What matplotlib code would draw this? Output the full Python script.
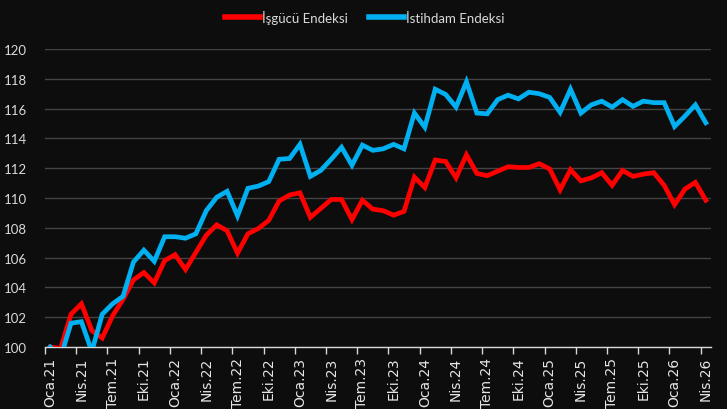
import matplotlib
matplotlib.use("Agg")
import matplotlib.pyplot as plt
from matplotlib.lines import Line2D
import numpy as np

# ---- data ----
month_abbr = ["Oca", "Şub", "Mar", "Nis", "May", "Haz", "Tem", "Ağu", "Eyl", "Eki", "Kas", "Ara"]
years = [21, 22, 23, 24, 25, 26]
months = [f"{month_abbr[m]}.{y}" for y in years for m in range(12)][:64]  # Oca.21 .. Nis.26

isgucu = [100.0, 99.9, 102.2, 102.9, 101.1, 100.6, 102.1, 103.2, 104.5, 105.0,
          104.3, 105.8, 106.2, 105.2, 106.35, 107.5, 108.2, 107.8, 106.3, 107.6,
          107.95, 108.5, 109.8, 110.2, 110.35, 108.7, 109.3, 109.9, 109.9, 108.55,
          109.85, 109.25, 109.15, 108.85, 109.1, 111.4, 110.7, 112.55, 112.45, 111.35,
          112.9, 111.65, 111.5, 111.8, 112.1, 112.05, 112.05, 112.3, 111.95, 110.55,
          111.9, 111.15, 111.35, 111.7, 110.85, 111.85, 111.45, 111.6, 111.7, 110.85,
          109.55, 110.6, 111.05, 109.85]

istihdam = [100.0, 99.3, 101.6, 101.7, 99.7, 102.2, 102.9, 103.4, 105.7, 106.5,
            105.75, 107.4, 107.4, 107.3, 107.6, 109.15, 110.05, 110.45, 108.8, 110.65,
            110.8, 111.1, 112.6, 112.65, 113.6, 111.45, 111.85, 112.6, 113.4, 112.2,
            113.55, 113.2, 113.3, 113.6, 113.3, 115.7, 114.75, 117.3, 116.95, 116.1,
            117.8, 115.7, 115.65, 116.6, 116.9, 116.65, 117.1, 117.0, 116.75, 115.75,
            117.3, 115.7, 116.25, 116.5, 116.1, 116.6, 116.15, 116.5, 116.4, 116.4,
            114.8, 115.5, 116.25, 115.05]

series_names = ["İşgücü Endeksi", "İstihdam Endeksi"]
series_colors = ["#ff0000", "#00b0f0"]
y_ticks = [100, 102, 104, 106, 108, 110, 112, 114, 116, 118, 120]

# ---- figure ----
BG = "#0d0d0d"
TXT = "#d9d9d9"
W, H = 727, 410
fig = plt.figure(figsize=(W / 100, H / 100), dpi=100, facecolor=BG)
ax = fig.add_axes([45 / W, 1 - 348 / H, (711 - 45) / W, 298 / H], facecolor=BG)

x = np.arange(len(months))
ax.plot(x, isgucu, color=series_colors[0], lw=3.4, solid_joinstyle="miter", zorder=3)
ax.plot(x, istihdam, color=series_colors[1], lw=3.4, solid_joinstyle="miter", zorder=4)

ax.set_xlim(-0.5, len(months) - 0.5)
ax.set_ylim(100, 120)

# y axis
ax.set_yticks(y_ticks)
ax.set_yticklabels([str(v) for v in y_ticks], fontsize=9.5, color=TXT, family="Lato")
ax.tick_params(axis="y", length=0, pad=13)
ax.grid(axis="y", color="#444444", lw=1.0, zorder=0)
ax.set_axisbelow(True)

# x axis
major = x[::3]
ax.set_xticks(major)
ax.set_xticklabels([months[i] for i in major], rotation=90, fontsize=10,
                   color="#e6e6e6", family="DejaVu Sans")
ax.tick_params(axis="x", which="major", length=0, pad=7)
ax.set_xticks(np.arange(-0.5, len(months) - 1, 3), minor=True)
ax.tick_params(axis="x", which="minor", length=5, width=1, color=TXT)

for s in ["top", "right", "left"]:
    ax.spines[s].set_visible(False)
ax.spines["bottom"].set_color(TXT)
ax.spines["bottom"].set_linewidth(1.0)

# legend
handles = [Line2D([0], [0], color=c, lw=4) for c in series_colors]
leg = fig.legend(handles, series_names, loc="center", bbox_to_anchor=(0.502, 1 - 18 / H),
                 ncol=2, frameon=False, handlelength=2.6, handletextpad=0.2,
                 columnspacing=1.6, prop={"family": "Lato", "size": 9.5})
for t in leg.get_texts():
    t.set_color(TXT)

fig.savefig("out.png", dpi=100, facecolor=BG)
